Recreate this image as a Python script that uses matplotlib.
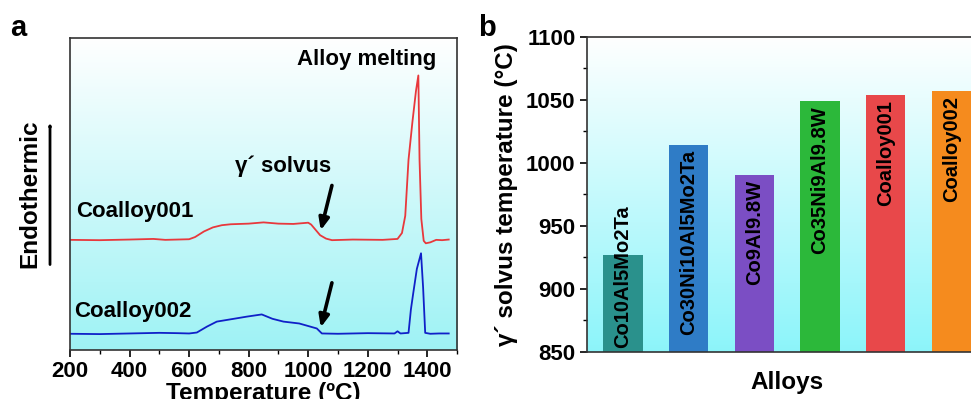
import numpy as np
import matplotlib
matplotlib.use("Agg")
import matplotlib.pyplot as plt
from matplotlib.ticker import MultipleLocator

plt.rcParams['font.family'] = ['Liberation Sans', 'DejaVu Sans']
plt.rcParams['font.weight'] = 'bold'

# DSC curves (temperature in degC, heat flow in arbitrary units, curves offset)
temp_001 = [200, 300, 400, 480, 520, 600, 620, 650, 680, 710, 740, 800, 850, 900,
            950, 1000, 1010, 1025, 1040, 1060, 1080, 1150, 1250, 1300, 1315, 1326,
            1337, 1350, 1362, 1370, 1374, 1380, 1388, 1395, 1410, 1430, 1450, 1472]
flow_001 = [3.53, 3.52, 3.54, 3.56, 3.53, 3.55, 3.62, 3.80, 3.93, 4.00, 4.03, 4.05, 4.09, 4.05,
            4.04, 4.08, 4.02, 3.85, 3.68, 3.57, 3.52, 3.54, 3.53, 3.56, 3.75, 4.30,
            6.10, 7.30, 8.30, 8.80, 6.10, 4.20, 3.50, 3.42, 3.45, 3.53, 3.52, 3.54]

temp_002 = [200, 300, 400, 500, 560, 600, 626, 660, 693, 750, 794, 844, 880, 917,
            970, 1029, 1046, 1100, 1200, 1290, 1300, 1310, 1337, 1345, 1353, 1365,
            1379, 1386, 1393, 1410, 1440, 1472]
flow_002 = [0.52, 0.51, 0.53, 0.55, 0.54, 0.53, 0.56, 0.75, 0.91, 1.00, 1.07, 1.14, 1.00, 0.91,
            0.85, 0.69, 0.53, 0.52, 0.54, 0.53, 0.60, 0.53, 0.55, 1.30, 1.83, 2.60,
            3.10, 2.00, 0.55, 0.52, 0.53, 0.53]

# gamma prime solvus temperatures
alloys = ['Co10Al5Mo2Ta', 'Co30Ni10Al5Mo2Ta', 'Co9Al9.8W', 'Co35Ni9Al9.8W',
          'Coalloy001', 'Coalloy002']
solvus = [927, 1014, 990, 1049, 1054, 1057]
bar_colors = ['#2a918c', '#2f7cc6', '#7b4ec4', '#2cb83a', '#e8484a', '#f58b1e']


def add_gradient(ax, bottom_rgb):
    # white at the top fading to cyan at the bottom
    g = np.linspace(0, 1, 256)[:, None]
    top = np.array([1.0, 1.0, 1.0])
    img = top + g[..., None] * (np.array(bottom_rgb) - top)
    img = np.repeat(img, 2, axis=1)
    ax.imshow(img, extent=[0, 1, 0, 1], transform=ax.transAxes,
              aspect='auto', zorder=0, interpolation='bilinear')


fig = plt.figure(figsize=(9.71, 3.99), dpi=100)

# ---- panel a ----
ax_a = fig.add_axes([0.0721, 0.1228, 0.3986, 0.782])
add_gradient(ax_a, (0.62, 0.95, 0.96))
ax_a.plot(temp_001, flow_001, color='#e8383c', lw=1.3, zorder=2)
ax_a.plot(temp_002, flow_002, color='#1020c8', lw=1.3, zorder=2)
ax_a.set_xlim(200, 1500)
ax_a.set_ylim(0, 10)
ax_a.set_yticks([])
ax_a.xaxis.set_major_locator(MultipleLocator(200))
ax_a.xaxis.set_minor_locator(MultipleLocator(100))
ax_a.tick_params(axis='x', which='major', direction='out', length=5, width=1.2,
                 labelsize=16, pad=3)
ax_a.tick_params(axis='x', which='minor', direction='out', length=3, width=1)
for lab in ax_a.get_xticklabels():
    lab.set_fontweight('bold')
for sp in ax_a.spines.values():
    sp.set_linewidth(1.2)
    sp.set_color('#333333')
ax_a.set_xlabel('Temperature (ºC)', fontsize=17.5, fontweight='bold', labelpad=0)

ax_a.text(1197, 9.3, 'Alloy melting', ha='center', va='center', fontsize=16, fontweight='bold')
ax_a.text(916, 5.88, 'γ´ solvus', ha='center', va='center', fontsize=16, fontweight='bold')
ax_a.text(222, 4.43, 'Coalloy001', ha='left', va='center', fontsize=16, fontweight='bold')
ax_a.text(213, 1.23, 'Coalloy002', ha='left', va='center', fontsize=16, fontweight='bold')
arrow_style = dict(arrowstyle='-|>,head_length=0.7,head_width=0.3', color='black', lw=2.6)
ax_a.annotate('', xy=(1040, 3.75), xytext=(1082, 5.36), arrowprops=arrow_style)
ax_a.annotate('', xy=(1040, 0.64), xytext=(1082, 2.24), arrowprops=arrow_style)

fig.text(0.031, 0.514, 'Endothermic', rotation=90, ha='center', va='center',
         fontsize=17.5, fontweight='bold')
fig.patches.append(matplotlib.patches.FancyArrowPatch(
    (0.0515, 0.33), (0.0515, 0.70), transform=fig.transFigure,
    arrowstyle='-|>,head_length=0.7,head_width=0.3', color='black', lw=2.0))

fig.text(0.019, 0.93, 'a', fontsize=21, fontweight='bold', va='center', ha='center')
fig.text(0.5015, 0.93, 'b', fontsize=21, fontweight='bold', va='center', ha='center')

# ---- panel b ----
ax_b = fig.add_axes([0.6042, 0.1185, 0.4129, 0.7895])
add_gradient(ax_b, (0.55, 0.96, 0.98))
x = np.arange(len(alloys))
ax_b.bar(x, [v - 850 for v in solvus], bottom=850, width=0.6, color=bar_colors, zorder=2)
for i, (name, v) in enumerate(zip(alloys, solvus)):
    if v - 850 < 120:
        ax_b.text(i, 853, name, rotation=90, ha='center', va='bottom',
                  fontsize=14.5, fontweight='bold', zorder=3)
    else:
        ax_b.text(i, v - 4, name, rotation=90, ha='center', va='top',
                  fontsize=14.5, fontweight='bold', zorder=3)
ax_b.set_xlim(-0.553, 5.55)
ax_b.set_ylim(850, 1100)
ax_b.set_xticks([])
ax_b.yaxis.set_major_locator(MultipleLocator(50))
ax_b.yaxis.set_minor_locator(MultipleLocator(25))
ax_b.tick_params(axis='y', which='major', direction='out', length=5, width=1.2,
                 labelsize=16, pad=3)
ax_b.tick_params(axis='y', which='minor', direction='out', length=3, width=1)
for lab in ax_b.get_yticklabels():
    lab.set_fontweight('bold')
ax_b.spines['right'].set_visible(False)
for sp in ['left', 'top', 'bottom']:
    ax_b.spines[sp].set_linewidth(1.2)
    ax_b.spines[sp].set_color('#333333')
ax_b.set_ylabel('γ´ solvus temperature (°C)', fontsize=17.5, fontweight='bold', labelpad=6)
ax_b.set_xlabel('Alloys', fontsize=17.5, fontweight='bold', labelpad=14)

fig.savefig('out.png', dpi=100)
